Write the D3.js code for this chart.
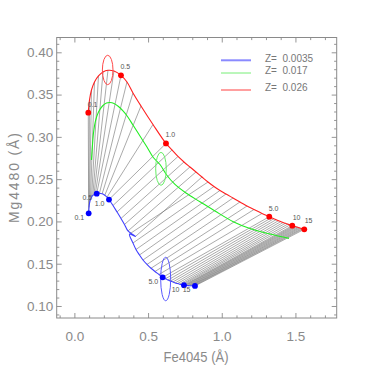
<!DOCTYPE html>
<html><head><meta charset="utf-8">
<script src="https://cdn.jsdelivr.net/npm/d3@7"></script>
<style>html,body{margin:0;padding:0;background:#fff;}svg{display:block;}</style>
</head><body>
<svg id="c" width="375" height="375"></svg>
<script>
// ---------- data ----------
const ages = [0.1,0.15,0.2,0.25,0.3,0.35,0.4,0.45,0.5,0.6,0.7,0.8,0.9,1.0,
  1.25,1.5,1.75,2.0,2.25,2.5,2.75,3.0,3.25,3.5,3.75,4.0,4.25,4.5,4.75,5.0,
  5.5,6,6.5,7,7.5,8,8.5,9,9.5,10,10.5,11,11.5,12,12.5,13,13.5,14,14.5,15];

// Z = 0.026 (red)
const redFe = [0.0943,0.1025,0.1160,0.1364,0.1635,0.1941,0.2280,0.2687,0.3162,0.3569,0.3976,0.4519,0.5333,0.6216,
  0.6623,0.7030,0.7437,0.7844,0.8251,0.8658,0.9066,0.9473,0.9880,1.0287,1.0762,1.1237,1.1712,1.2187,1.2730,1.3225,
  1.3381,1.3537,1.3693,1.3850,1.4006,1.4162,1.4318,1.4474,1.4630,1.4786,1.4867,1.4949,1.5030,1.5112,1.5193,1.5274,1.5356,1.5437,1.5519,1.5600];
const redMg = [0.3286,0.3436,0.3554,0.3649,0.3720,0.3767,0.3787,0.3779,0.3728,0.3649,0.3519,0.3365,0.3146,0.2922,
  0.2845,0.2768,0.2703,0.2644,0.2585,0.2525,0.2466,0.2413,0.2366,0.2324,0.2277,0.2230,0.2182,0.2141,0.2094,0.2056,
  0.2044,0.2032,0.2021,0.2009,0.1998,0.1987,0.1978,0.1968,0.1959,0.1950,0.1945,0.1941,0.1937,0.1933,0.1928,0.1924,0.1920,0.1915,0.1912,0.1907];

// Z = 0.0035 (blue)
const blueFe = [0.0970,0.0991,0.1031,0.1092,0.1167,0.1249,0.1330,0.1418,0.1513,0.1703,0.1886,0.2063,0.2212,0.2348,
  0.2619,0.2891,0.3162,0.3400,0.3637,0.4146,0.3739,0.3976,0.4180,0.4417,0.4655,0.4926,0.5198,0.5469,0.5741,0.5992,
  0.6182,0.6351,0.6521,0.6691,0.6847,0.6996,0.7138,0.7254,0.7349,0.7437,0.7512,0.7586,0.7661,0.7736,0.7810,0.7885,0.7960,0.8034,0.8109,0.8183];
const blueMg = [0.2096,0.2165,0.2218,0.2259,0.2289,0.2307,0.2317,0.2324,0.2328,0.2334,0.2327,0.2309,0.2287,0.2259,
  0.2188,0.2112,0.2035,0.1964,0.1887,0.1822,0.1851,0.1745,0.1668,0.1603,0.1544,0.1491,0.1446,0.1408,0.1373,0.1339,
  0.1323,0.1307,0.1294,0.1284,0.1273,0.1265,0.1258,0.1253,0.1250,0.1246,0.1245,0.1244,0.1242,0.1241,0.1240,0.1239,0.1239,0.1238,0.1238,0.1237];

// Z = 0.017 (green)
const greenFe = [0.1160,0.1215,0.1296,0.1432,0.1635,0.1907,0.2178,0.2416,0.2687,0.2992,0.3298,0.3603,0.3976,0.4451,
  0.4926,0.5354,0.5809,0.6263,0.6826,0.7573,0.8523,0.9541,1.0782,1.1916,1.3273,1.4562];
const greenMg = [0.2726,0.2868,0.3046,0.3188,0.3294,0.3365,0.3400,0.3406,0.3395,0.3359,0.3306,0.3241,0.3140,0.3010,
  0.2880,0.2756,0.2673,0.2549,0.2437,0.2336,0.2233,0.2123,0.1997,0.1916,0.1851,0.1800];

const labelledAges = [0.1,0.5,1.0,5.0,10,15];
const labelText = ["0.1","0.5","1.0","5.0","10","15"];

// error ellipses: centre Fe, centre Mg, half-width Fe, half-height Mg
const ellipseFe = [0.2260,0.5876,0.6195];
const ellipseMg = [0.3791,0.2622,0.1319];
const ellipseRx = [0.036,0.036,0.034];
const ellipseRy = [0.0174,0.0195,0.0257];
const ellipseColor = ["#ff4a4a","#66ee66","#5a5aff"];

const legendLabels = ["Z=  0.0035","Z=  0.017","Z=  0.026"];
const xMajor = [0.0,0.5,1.0,1.5];
const xMinor = [-0.1,0.1,0.2,0.3,0.4,0.6,0.7,0.8,0.9,1.1,1.2,1.3,1.4,1.6,1.7];
const yMajor = [0.10,0.15,0.20,0.25,0.30,0.35,0.40];
const yMinor = [0.09,0.11,0.12,0.13,0.14,0.16,0.17,0.18,0.19,0.21,0.22,0.23,0.24,0.26,0.27,0.28,0.29,0.31,0.32,0.33,0.34,0.36,0.37,0.38,0.39,0.41];

// ---------- drawing ----------
const svg = d3.select("#c");
const L = 56.7, R = 336.7, T = 37.5, B = 318;
const x = d3.scaleLinear().domain([-0.12,1.78]).range([L,R]);
const y = d3.scaleLinear().domain([0.0858,0.4175]).range([B,T]);
const axisCol = "#8a8a8a";
const font = "Liberation Sans, Arial, sans-serif";

function styleAxis(g){
  g.select(".domain").remove();
  g.selectAll(".tick line").attr("stroke",axisCol).attr("stroke-width",0.9);
  g.selectAll(".tick text").attr("fill",axisCol).attr("font-family",font).attr("font-size",13.5);
}
// bottom
svg.append("g").attr("transform",`translate(0,${B})`)
  .call(d3.axisBottom(x).tickValues(xMajor).tickSize(-5).tickPadding(13.5).tickFormat(d3.format(".1f"))).call(styleAxis);
svg.append("g").attr("transform",`translate(0,${B})`)
  .call(d3.axisBottom(x).tickValues(xMinor).tickSize(-2.6).tickFormat("")).call(styleAxis);
// top
svg.append("g").attr("transform",`translate(0,${T})`)
  .call(d3.axisTop(x).tickValues(xMajor).tickSize(-5).tickFormat("")).call(styleAxis);
svg.append("g").attr("transform",`translate(0,${T})`)
  .call(d3.axisTop(x).tickValues(xMinor).tickSize(-2.6).tickFormat("")).call(styleAxis);
// left
svg.append("g").attr("transform",`translate(${L},0)`)
  .call(d3.axisLeft(y).tickValues(yMajor).tickSize(-5).tickPadding(3.5).tickFormat(d3.format(".2f"))).call(styleAxis);
svg.append("g").attr("transform",`translate(${L},0)`)
  .call(d3.axisLeft(y).tickValues(yMinor).tickSize(-2.6).tickFormat("")).call(styleAxis);
// right
svg.append("g").attr("transform",`translate(${R},0)`)
  .call(d3.axisRight(y).tickValues(yMajor).tickSize(-5).tickFormat("")).call(styleAxis);
svg.append("g").attr("transform",`translate(${R},0)`)
  .call(d3.axisRight(y).tickValues(yMinor).tickSize(-2.6).tickFormat("")).call(styleAxis);
// frame
svg.append("rect").attr("x",L).attr("y",T).attr("width",R-L).attr("height",B-T)
  .attr("fill","none").attr("stroke",axisCol).attr("stroke-width",1);

// axis titles
svg.append("text").attr("x",196).attr("y",362).attr("text-anchor","middle")
  .attr("fill",axisCol).attr("font-family",font).attr("font-size",14)
  .attr("textLength",65).attr("lengthAdjust","spacingAndGlyphs").text("Fe4045 (Å)");
svg.append("text").attr("transform","translate(18.5,178) rotate(-90)").attr("text-anchor","middle")
  .attr("fill",axisCol).attr("font-family",font).attr("font-size",14)
  .attr("textLength",90).attr("lengthAdjust","spacing").text("Mg4480 (Å)");

const plot = svg.append("g");
// iso-age connectors
plot.selectAll("line.iso").data(ages).join("line").attr("class","iso")
  .attr("x1",(d,i)=>x(blueFe[i])).attr("y1",(d,i)=>y(blueMg[i]))
  .attr("x2",(d,i)=>x(redFe[i])).attr("y2",(d,i)=>y(redMg[i]))
  .attr("stroke","#707070").attr("stroke-width",0.6);

const lineGen = d3.line().x(d=>x(d[0])).y(d=>y(d[1])).curve(d3.curveCatmullRom.alpha(0.5));
function curve(fe,mg,col){
  plot.append("path").datum(fe.map((v,i)=>[v,mg[i]])).attr("d",lineGen)
    .attr("fill","none").attr("stroke",col).attr("stroke-width",1.1);
}
curve(blueFe,blueMg,"#4040ff");
curve(greenFe,greenMg,"#22ee22");
curve(redFe,redMg,"#ff2020");

// ellipses
plot.selectAll("ellipse").data(ellipseFe).join("ellipse")
  .attr("cx",(d,i)=>x(d)).attr("cy",(d,i)=>y(ellipseMg[i]))
  .attr("rx",(d,i)=>x(ellipseRx[i])-x(0)).attr("ry",(d,i)=>y(0)-y(ellipseRy[i]))
  .attr("fill","none").attr("stroke",(d,i)=>ellipseColor[i]).attr("stroke-width",1);

// dots and labels
const idx = labelledAges.map(a=>ages.indexOf(a));
plot.selectAll("circle.r").data(idx).join("circle").attr("class","r")
  .attr("cx",i=>x(redFe[i])).attr("cy",i=>y(redMg[i])).attr("r",2.9).attr("fill","#ff0000");
plot.selectAll("circle.b").data(idx).join("circle").attr("class","b")
  .attr("cx",i=>x(blueFe[i])).attr("cy",i=>y(blueMg[i])).attr("r",2.9).attr("fill","#0000ff");
plot.selectAll("text.r").data(idx).join("text").attr("class","r")
  .attr("x",i=>x(redFe[i])+4.3).attr("y",i=>y(redMg[i])-6).attr("text-anchor","middle")
  .attr("font-family",font).attr("font-size",7).attr("fill","#555").text((d,k)=>labelText[k]);
plot.selectAll("text.b").data(idx).join("text").attr("class","b")
  .attr("x",i=>x(blueFe[i])-4.5).attr("y",i=>y(blueMg[i])+6.5).attr("text-anchor","end")
  .attr("font-family",font).attr("font-size",7).attr("fill","#555").text((d,k)=>labelText[k]);

// legend
const legY = [60.3,73,90];
const legCol = ["#8a8aff","#77ee77","#ff4040"];
const legW = [2,1,1];
const leg = svg.append("g");
leg.selectAll("line").data(legendLabels).join("line")
  .attr("x1",221).attr("x2",251).attr("y1",(d,i)=>legY[i]).attr("y2",(d,i)=>legY[i])
  .attr("stroke",(d,i)=>legCol[i]).attr("stroke-width",(d,i)=>legW[i]);
leg.selectAll("text").data(legendLabels).join("text")
  .attr("x",265).attr("y",(d,i)=>legY[i]+1.2).attr("font-family",font).attr("font-size",10)
  .attr("fill","#777").attr("xml:space","preserve").style("white-space","pre").text(d=>d);
</script>
</body></html>
